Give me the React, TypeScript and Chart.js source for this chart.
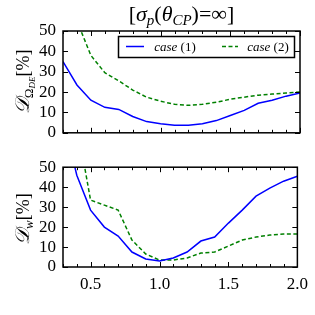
import React, { useEffect, useRef } from "react";
import { Chart, registerables } from "chart.js";

Chart.register(...registerables);

const zmax = [0.3, 0.4, 0.5, 0.6, 0.7, 0.8, 0.9, 1.0, 1.1, 1.2, 1.3, 1.4, 1.5, 1.6, 1.7, 1.8, 1.9, 2.0];
const topCase1 = [35, 23.5, 16, 12.5, 11.5, 8, 5.5, 4.5, 3.7, 3.7, 4.5, 6, 8.5, 11, 14.5, 16, 18, 19.5];
const topCase2 = [80, 55, 38, 29.5, 25.5, 21, 17.5, 15.5, 14, 13.5, 14, 15, 16.5, 17.5, 18.5, 19, 19.5, 20];
const botCase1 = [75, 46, 28.5, 20, 15.5, 7.5, 4, 3, 4.5, 7.5, 13, 15, 22, 28.5, 35.5, 39.5, 43, 45.5];
const botCase2 = [110, 72, 33.5, 31, 28.5, 13.5, 6.5, 3.5, 3.5, 4.5, 7, 7.5, 10.5, 13.5, 15, 16, 16.5, 16.5];
const xMajorTicks = [0.5, 1.0, 1.5, 2.0];
const yTicks = [0, 10, 20, 30, 40, 50];
const seriesNames = ["(1)", "(2)"];

const BLUE = "#0000ff";
const GREEN = "#008000";
const SERIF = "'Liberation Serif', 'DejaVu Serif', serif";

Chart.defaults.font.family = SERIF;

type Seg = { t: string; size: number; italic?: boolean; dy?: number };

function fontOf(s: Seg) {
  return `${s.italic ? "italic " : ""}${s.size}px ${SERIF}`;
}

function drawSegs(ctx: CanvasRenderingContext2D, segs: Seg[], cx: number, cy: number, rotate = false) {
  ctx.save();
  ctx.translate(cx, cy);
  if (rotate) ctx.rotate(-Math.PI / 2);
  ctx.textBaseline = "alphabetic";
  ctx.textAlign = "left";
  ctx.fillStyle = "#000";
  let total = 0;
  const widths = segs.map((s) => {
    ctx.font = fontOf(s);
    const w = ctx.measureText(s.t).width;
    total += w;
    return w;
  });
  let x = -total / 2;
  segs.forEach((s, i) => {
    ctx.font = fontOf(s);
    ctx.fillText(s.t, x, s.dy || 0);
    x += widths[i];
  });
  ctx.restore();
}

function makePoints(ys: number[]) {
  return zmax.map((x, i) => ({ x, y: ys[i] }));
}

const framePlugin = {
  id: "frameTicks",
  afterDraw(chart: any) {
    const ctx: CanvasRenderingContext2D = chart.ctx;
    const { left, right, top, bottom } = chart.chartArea;
    const xs = chart.scales.x;
    const ys = chart.scales.y;
    ctx.save();
    ctx.strokeStyle = "#000";
    ctx.lineWidth = 1;
    for (const v of zmax) {
      const px = Math.round(xs.getPixelForValue(v)) + 0.5;
      const major = xMajorTicks.some((m) => Math.abs(m - v) < 1e-6);
      const len = major ? 5 : 3;
      ctx.beginPath();
      ctx.moveTo(px, bottom);
      ctx.lineTo(px, bottom - len);
      ctx.moveTo(px, top);
      ctx.lineTo(px, top + len);
      ctx.stroke();
    }
    for (const v of yTicks) {
      const py = Math.round(ys.getPixelForValue(v)) + 0.5;
      ctx.beginPath();
      ctx.moveTo(left, py);
      ctx.lineTo(left + 5, py);
      ctx.moveTo(right, py);
      ctx.lineTo(right - 5, py);
      ctx.stroke();
    }
    ctx.lineWidth = 1.5;
    ctx.strokeRect(left, top, right - left, bottom - top);
    ctx.restore();

    const opts = chart.options.plugins.frameTicks || {};
    if (opts.kind === "top") {
      drawSegs(ctx, [
        { t: "[", size: 22 },
        { t: "σ", size: 22, italic: true },
        { t: "p", size: 15, italic: true, dy: 4 },
        { t: "(", size: 22 },
        { t: "θ", size: 22, italic: true },
        { t: "CP", size: 15, italic: true, dy: 4 },
        { t: ")=∞]", size: 22 },
      ], (left + right) / 2, 21);
      drawSegs(ctx, [
        { t: "𝒟", size: 20, italic: true },
        { t: "Ω", size: 13, dy: 4 },
        { t: "DE", size: 9, italic: true, dy: 6 },
        { t: "[%]", size: 18 },
      ], 29, (top + bottom) / 2, true);
      const lx = 118.5, ly = 36.5, lw = 176, lh = 21;
      ctx.save();
      ctx.fillStyle = "#fff";
      ctx.fillRect(lx, ly, lw, lh);
      ctx.strokeStyle = "#000";
      ctx.lineWidth = 1.5;
      ctx.strokeRect(lx, ly, lw, lh);
      ctx.strokeStyle = BLUE;
      ctx.beginPath();
      ctx.moveTo(126, 46.5);
      ctx.lineTo(144, 46.5);
      ctx.stroke();
      ctx.strokeStyle = GREEN;
      ctx.setLineDash([4, 2.5]);
      ctx.beginPath();
      ctx.moveTo(222, 46.5);
      ctx.lineTo(238, 46.5);
      ctx.stroke();
      ctx.setLineDash([]);
      ctx.restore();
      const legSeg = (n: string): Seg[] => [
        { t: "case ", size: 13, italic: true },
        { t: n, size: 13 },
      ];
      drawSegs(ctx, legSeg(seriesNames[0]), 175, 51);
      drawSegs(ctx, legSeg(seriesNames[1]), 268, 51);
    } else {
      drawSegs(ctx, [
        { t: "𝒟", size: 20, italic: true },
        { t: "w", size: 13, italic: true, dy: 4 },
        { t: "[%]", size: 18 },
      ], 29, (top + bottom) / 2 + 2, true);
      drawSegs(ctx, [
        { t: "z", size: 18, italic: true },
        { t: "max", size: 12, italic: true, dy: 3 },
      ], (left + right) / 2, 305);
    }
  },
};

function makeConfig(kind: "top" | "bottom", c1: number[], c2: number[], pad: any, xHeight: number) {
  return {
    type: "line",
    data: {
      datasets: [
        {
          label: "case " + seriesNames[0],
          data: makePoints(c1),
          borderColor: BLUE,
          borderWidth: 1.5,
          pointRadius: 0,
          fill: false,
          tension: 0,
        },
        {
          label: "case " + seriesNames[1],
          data: makePoints(c2),
          borderColor: GREEN,
          borderWidth: 1.5,
          borderDash: [4, 2.5],
          pointRadius: 0,
          fill: false,
          tension: 0,
        },
      ],
    },
    options: {
      responsive: false,
      animation: false,
      layout: { padding: pad },
      plugins: {
        legend: { display: false },
        tooltip: { enabled: false },
        title: { display: false },
        frameTicks: { kind },
      },
      scales: {
        x: {
          type: "linear",
          min: 0.3,
          max: 2.0,
          display: kind === "bottom",
          grid: { display: false, drawTicks: false },
          border: { display: false },
          afterBuildTicks: (s: any) => {
            s.ticks = xMajorTicks.map((v) => ({ value: v }));
          },
          afterFit: (s: any) => {
            s.height = xHeight;
          },
          ticks: {
            padding: 7,
            autoSkip: false,
            maxRotation: 0,
            color: "#000",
            font: { family: SERIF, size: 17 },
            callback: (v: any) => Number(v).toFixed(1),
          },
        },
        y: {
          type: "linear",
          min: 0,
          max: 50,
          grid: { display: false, drawTicks: false },
          border: { display: false },
          afterBuildTicks: (s: any) => {
            s.ticks = yTicks.map((v) => ({ value: v }));
          },
          afterFit: (s: any) => {
            s.width = 63;
          },
          ticks: {
            padding: 7,
            autoSkip: false,
            color: "#000",
            font: { family: SERIF, size: 17 },
            callback: (v: any) => String(v),
          },
        },
      },
    },
    plugins: [framePlugin],
  };
}

export default function App() {
  const topRef = useRef<HTMLCanvasElement>(null);
  const botRef = useRef<HTMLCanvasElement>(null);
  useEffect(() => {
    const c1 = new Chart(topRef.current as any, makeConfig("top", topCase1, topCase2, { left: 0, right: 15, top: 31, bottom: 11 }, 0) as any);
    const c2 = new Chart(botRef.current as any, makeConfig("bottom", botCase1, botCase2, { left: 0, right: 15, top: 9, bottom: 0 }, 48) as any);
    return () => {
      c1.destroy();
      c2.destroy();
    };
  }, []);
  return (
    <div style={{ position: "fixed", left: 0, top: 0, width: 315, height: 315, background: "#fff" }}>
      <canvas ref={topRef} width={315} height={150} style={{ position: "absolute", left: 0, top: 0, width: 315, height: 150 }} />
      <canvas ref={botRef} width={315} height={165} style={{ position: "absolute", left: 0, top: 150, width: 315, height: 165 }} />
    </div>
  );
}
